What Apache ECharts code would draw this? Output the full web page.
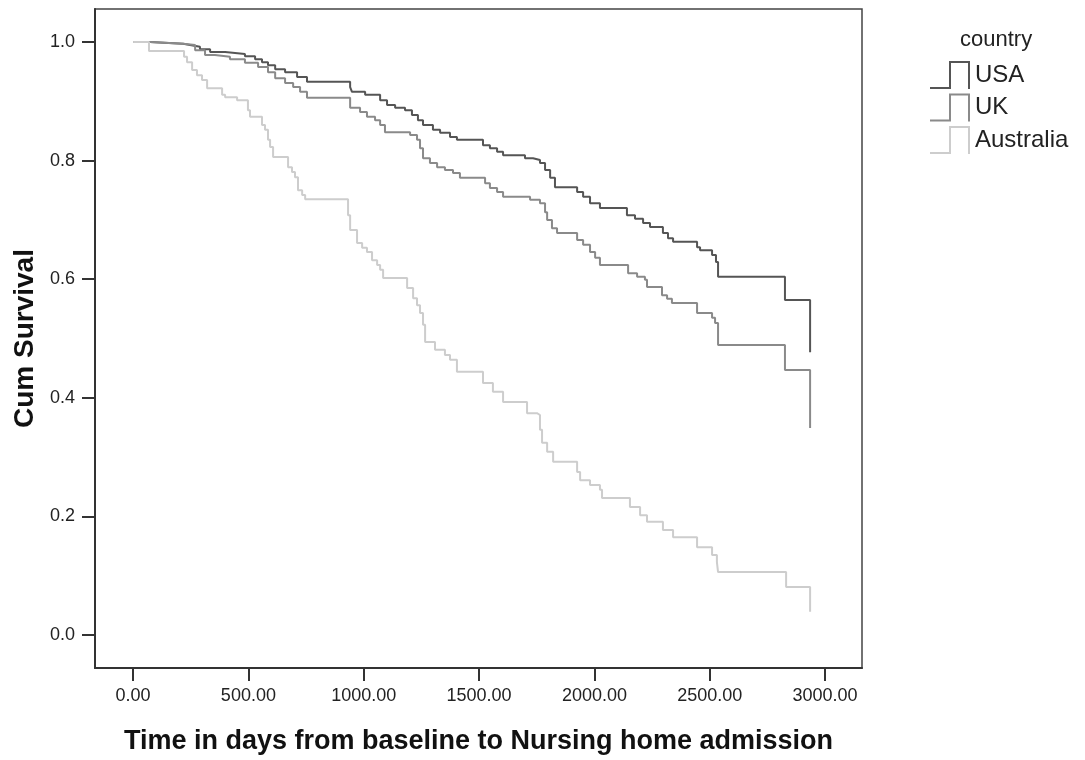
<!DOCTYPE html>
<html>
<head>
<meta charset="utf-8">
<script src="https://cdn.jsdelivr.net/npm/echarts@6/dist/echarts.min.js"></script>
<style>html,body{margin:0;padding:0;background:#fff;}#chart{width:1085px;height:760px;}</style>
</head>
<body>
<div id="chart"></div>
<script>
// Series names
const seriesNames = ['USA', 'UK', 'Australia'];
// Axis tick values
const xTicks = [0, 500, 1000, 1500, 2000, 2500, 3000];
const yTicks = [0, 0.2, 0.4, 0.6, 0.8, 1.0];

// USA: event times (days) and cumulative survival after each event
const usaT = [0, 74, 217, 247, 290, 334, 399, 485, 529, 559, 585, 616, 659, 711, 754, 941, 949, 1006, 1071, 1101, 1136, 1179, 1209, 1235, 1257, 1300, 1331, 1374, 1404, 1517, 1547, 1578, 1604, 1699, 1734, 1764, 1786, 1808, 1829, 1925, 1951, 1981, 2024, 2141, 2176, 2211, 2241, 2297, 2319, 2341, 2445, 2458, 2510, 2527, 2536, 2826, 2935];
const usaS = [1.0, 0.997, 0.995, 0.992, 0.988, 0.983, 0.980, 0.976, 0.971, 0.966, 0.961, 0.954, 0.949, 0.941, 0.933, 0.924, 0.916, 0.911, 0.902, 0.894, 0.889, 0.885, 0.877, 0.868, 0.860, 0.852, 0.847, 0.840, 0.835, 0.826, 0.821, 0.815, 0.809, 0.804, 0.801, 0.796, 0.784, 0.771, 0.755, 0.747, 0.739, 0.728, 0.720, 0.708, 0.702, 0.695, 0.688, 0.678, 0.669, 0.663, 0.654, 0.649, 0.641, 0.629, 0.604, 0.565, 0.477];

// UK
const ukT = [0, 74, 217, 269, 312, 355, 420, 485, 542, 585, 616, 659, 694, 724, 754, 941, 984, 1014, 1049, 1071, 1092, 1201, 1231, 1244, 1257, 1287, 1318, 1352, 1387, 1417, 1526, 1547, 1578, 1604, 1721, 1764, 1786, 1795, 1816, 1838, 1925, 1951, 1981, 2003, 2024, 2146, 2185, 2219, 2228, 2293, 2315, 2336, 2445, 2510, 2523, 2536, 2826, 2935];
const ukS = [1.0, 0.997, 0.995, 0.986, 0.978, 0.975, 0.971, 0.965, 0.958, 0.949, 0.939, 0.931, 0.924, 0.916, 0.906, 0.889, 0.882, 0.874, 0.868, 0.860, 0.848, 0.843, 0.835, 0.821, 0.804, 0.796, 0.789, 0.784, 0.779, 0.771, 0.762, 0.754, 0.747, 0.739, 0.734, 0.728, 0.713, 0.700, 0.686, 0.678, 0.666, 0.658, 0.646, 0.636, 0.624, 0.610, 0.604, 0.599, 0.587, 0.573, 0.567, 0.560, 0.543, 0.535, 0.526, 0.489, 0.447, 0.349];

// Australia
const ausT = [0, 69, 221, 234, 256, 277, 299, 321, 386, 399, 451, 498, 507, 559, 572, 585, 594, 607, 672, 689, 702, 715, 733, 746, 932, 941, 971, 993, 1014, 1036, 1058, 1071, 1084, 1188, 1214, 1231, 1244, 1257, 1266, 1309, 1352, 1374, 1404, 1517, 1560, 1604, 1708, 1751, 1764, 1773, 1795, 1821, 1925, 1938, 1981, 2024, 2033, 2154, 2198, 2228, 2297, 2341, 2445, 2510, 2531, 2536, 2831, 2935];
const ausS = [1.0, 0.985, 0.975, 0.966, 0.953, 0.944, 0.936, 0.922, 0.911, 0.907, 0.902, 0.885, 0.874, 0.860, 0.852, 0.835, 0.823, 0.806, 0.789, 0.781, 0.772, 0.750, 0.742, 0.735, 0.708, 0.683, 0.661, 0.653, 0.646, 0.632, 0.624, 0.616, 0.602, 0.585, 0.568, 0.556, 0.543, 0.523, 0.494, 0.481, 0.472, 0.464, 0.444, 0.425, 0.410, 0.393, 0.374, 0.371, 0.346, 0.324, 0.309, 0.292, 0.275, 0.261, 0.253, 0.245, 0.231, 0.216, 0.202, 0.191, 0.177, 0.165, 0.148, 0.135, 0.123, 0.106, 0.081, 0.039];

const colors = ['#555555', '#8a8a8a', '#cdcdcd'];
const zip = (t, s) => t.map((v, i) => [v, s[i]]);
const seriesData = [zip(usaT, usaS), zip(ukT, ukS), zip(ausT, ausS)];

const FONT = 'Liberation Sans, Arial, sans-serif';
const chart = echarts.init(document.getElementById('chart'), null, {renderer: 'canvas'});
chart.setOption({
  animation: false,
  backgroundColor: '#ffffff',
  title: {
    text: 'country', left: 960, top: 29, padding: 0,
    textStyle: {fontFamily: FONT, fontSize: 22, fontWeight: 'normal', color: '#222'}
  },
  legend: {
    orient: 'vertical', left: 930, top: 61, itemGap: 4.5, padding: 0,
    itemWidth: 40, itemHeight: 28,
    icon: 'path://M0,26L19,26L19,0L40,0L40,28L38,28L38,2L21,2L21,28L0,28Z',
    textStyle: {fontFamily: FONT, fontSize: 24, color: '#222'},
    data: seriesNames
  },
  grid: {
    left: 95, top: 9, width: 767, height: 659,
    outerBoundsMode: 'none', containLabel: false,
    show: true, borderColor: '#444', borderWidth: 1.5, backgroundColor: 'transparent'
  },
  xAxis: {
    type: 'value', min: -165, max: 3160,
    name: 'Time in days from baseline to Nursing home admission',
    nameLocation: 'middle', nameGap: 60,
    nameTextStyle: {fontFamily: FONT, fontSize: 27, fontWeight: 'bold', color: '#111'},
    axisLine: {show: true, onZero: false, lineStyle: {color: '#333', width: 2}},
    axisTick: {show: true, inside: false, length: 13, customValues: xTicks, lineStyle: {color: '#333', width: 2}},
    axisLabel: {customValues: xTicks, margin: 19, formatter: v => v.toFixed(2),
      fontFamily: FONT, fontSize: 18, color: '#222'},
    splitLine: {show: false}
  },
  yAxis: {
    type: 'value', min: -0.0557, max: 1.0557,
    name: 'Cum Survival', nameLocation: 'middle', nameGap: 54, nameRotate: 90,
    nameTextStyle: {fontFamily: FONT, fontSize: 28, fontWeight: 'bold', color: '#111'},
    axisLine: {show: true, onZero: false, lineStyle: {color: '#333', width: 2}},
    axisTick: {show: true, inside: false, length: 13, customValues: yTicks, lineStyle: {color: '#333', width: 2}},
    axisLabel: {customValues: yTicks, margin: 20, formatter: v => v.toFixed(1),
      fontFamily: FONT, fontSize: 18, color: '#222'},
    splitLine: {show: false}
  },
  series: seriesNames.map((name, i) => ({
    name: name, type: 'line', step: 'end', showSymbol: false, symbol: 'none',
    data: seriesData[i], color: colors[i],
    itemStyle: {color: colors[i]},
    lineStyle: {color: colors[i], width: 2}
  }))
});
</script>
</body>
</html>
